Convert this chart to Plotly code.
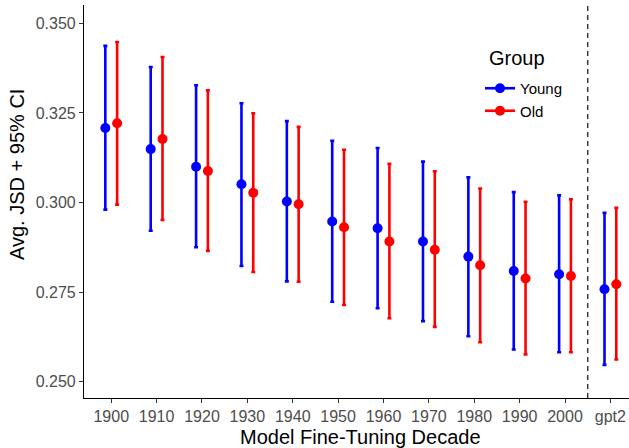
import plotly.graph_objects as go

categories = ["1900", "1910", "1920", "1930", "1940", "1950", "1960", "1970", "1980", "1990", "2000", "gpt2"]

young_mean = [0.3208, 0.3149, 0.3100, 0.3051, 0.3003, 0.2947, 0.2928, 0.2891, 0.2849, 0.2809, 0.2800, 0.2758]
young_low = [0.2980, 0.2921, 0.2875, 0.2823, 0.2780, 0.2723, 0.2705, 0.2669, 0.2627, 0.2590, 0.2582, 0.2547]
young_high = [0.3437, 0.3378, 0.3327, 0.3277, 0.3227, 0.3172, 0.3152, 0.3114, 0.3070, 0.3029, 0.3020, 0.2971]

old_mean = [0.3221, 0.3177, 0.3088, 0.3027, 0.2995, 0.2931, 0.2891, 0.2868, 0.2825, 0.2788, 0.2795, 0.2772]
old_low = [0.2994, 0.2951, 0.2865, 0.2806, 0.2779, 0.2714, 0.2677, 0.2653, 0.2610, 0.2576, 0.2582, 0.2562]
old_high = [0.3448, 0.3406, 0.3313, 0.3249, 0.3211, 0.3147, 0.3108, 0.3087, 0.3039, 0.3002, 0.3009, 0.2985]

y_ticks = [0.250, 0.275, 0.300, 0.325, 0.350]

DODGE = 0.13
FONT = "Liberation Sans"

W, H = 629, 448
ML, MR, MT, MB = 84, 0, 5, 50

fig = go.Figure()

def add_group(name, color, means, lows, highs, offset):
    xs = [i + offset for i in range(len(categories))]
    fig.add_trace(go.Scatter(
        x=xs, y=means, mode="markers", name=name, showlegend=False,
        marker=dict(color=color, size=10, line=dict(width=0)),
        error_y=dict(type="data", symmetric=False,
                     array=[h - m for h, m in zip(highs, means)],
                     arrayminus=[m - l for m, l in zip(means, lows)],
                     color=color, thickness=2.6, width=2),
        hoverinfo="skip",
    ))
    fig.add_trace(go.Scatter(
        x=[None], y=[None], mode="lines+markers", name=name,
        marker=dict(color=color, size=10), line=dict(color=color, width=2.6),
    ))

add_group("Young", "#0000FF", young_mean, young_low, young_high, -DODGE)
add_group("Old", "#FF0000", old_mean, old_low, old_high, DODGE)

# dashed separator between 2000 and gpt2
fig.add_shape(type="line", xref="x", yref="paper", x0=10.5, x1=10.5, y0=0, y1=1,
              line=dict(color="#333333", width=1.4, dash="5px,4px"))

fig.update_xaxes(
    range=[-0.60, 11.41],
    tickmode="array", tickvals=list(range(len(categories))), ticktext=categories,
    showline=True, linecolor="black", linewidth=1.2,
    ticks="outside", ticklen=4, tickwidth=1, tickcolor="#333333",
    tickfont=dict(family=FONT, size=16, color="#4D4D4D"),
    showgrid=False, zeroline=False,
)
fig.update_yaxes(
    range=[0.24545, 0.35511],
    tickmode="array", tickvals=y_ticks, ticktext=[f"{v:.3f}" for v in y_ticks],
    showline=True, linecolor="black", linewidth=1.2,
    ticks="outside", ticklen=4, tickwidth=1, tickcolor="#333333",
    tickfont=dict(family=FONT, size=16, color="#4D4D4D"),
    showgrid=False, zeroline=False,
)

pw = W - ML - MR
ph = H - MT - MB
def px_x(px):
    return (px - ML) / pw
def px_y(py):
    return (H - MB - py) / ph

fig.add_annotation(text="Model Fine-Tuning Decade", xref="paper", yref="paper",
                   x=px_x(360), y=px_y(437), xanchor="center", yanchor="middle",
                   showarrow=False, font=dict(family=FONT, size=20, color="black"))
fig.add_annotation(text="Avg. JSD + 95% CI", xref="paper", yref="paper",
                   x=px_x(17), y=px_y(175), textangle=-90,
                   xanchor="center", yanchor="middle",
                   showarrow=False, font=dict(family=FONT, size=20, color="black"))
fig.add_annotation(text="Group", xref="paper", yref="paper",
                   x=px_x(487), y=px_y(58), xanchor="left", yanchor="middle",
                   showarrow=False, font=dict(family=FONT, size=20, color="black"))

fig.update_layout(
    width=W, height=H,
    margin=dict(l=ML, r=MR, t=MT, b=MB, pad=0),
    plot_bgcolor="white", paper_bgcolor="white",
    font=dict(family=FONT),
    legend=dict(
        font=dict(family=FONT, size=15, color="black"),
        x=px_x(480), y=px_y(72), xanchor="left", yanchor="top",
        bgcolor="rgba(0,0,0,0)", itemwidth=30,
    ),
)

fig.write_html("out.html")
